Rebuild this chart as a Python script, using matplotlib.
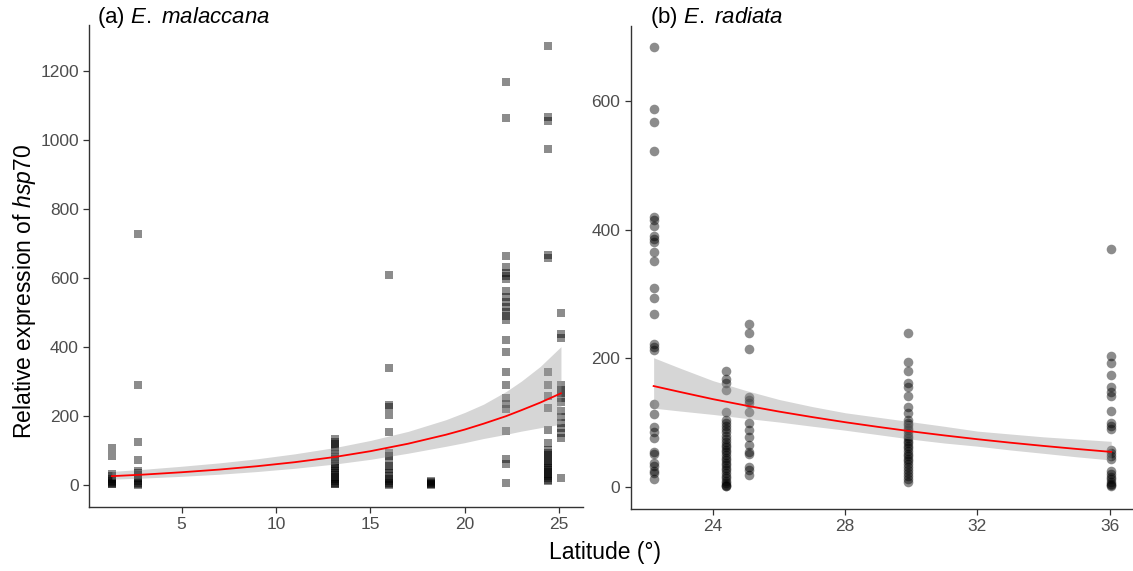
import numpy as np
import matplotlib.pyplot as plt

plt.rcParams['font.family'] = ['Liberation Sans', 'DejaVu Sans']
plt.rcParams['mathtext.fontset'] = 'custom'
plt.rcParams['mathtext.rm'] = 'Liberation Sans'
plt.rcParams['mathtext.it'] = 'Liberation Sans:italic'

# (a) E. malaccana - latitude groups and relative hsp70 expression
mal_lat = [1.3, 2.7, 13.1, 16.0, 18.2, 22.2, 24.4, 25.1]
mal_expr = [
    [106, 82, 32, 25, 18, 12, 8, 5, 3, 1],
    [727, 290, 125, 72, 40, 35, 28, 20, 12, 6, 2, 0],
    [133, 125, 118, 110, 100, 90, 80, 75, 68, 60, 55, 48, 40, 35, 28, 22, 16, 10, 6, 3, 1],
    [608, 338, 232, 224, 201, 154, 92, 82, 68, 55, 45, 35, 25, 18, 12, 6, 2, 0],
    [12, 8, 5, 3, 1, 0],
    [1166, 1064, 663, 630, 615, 605, 595, 560, 545, 530, 515, 500, 490, 478,
     420, 386, 328, 288, 250, 235, 220, 157, 75, 60, 5],
    [1272, 1065, 1055, 972, 666, 657, 328, 290, 256, 222, 159, 121, 100, 92,
     85, 78, 70, 62, 55, 48, 42, 36, 30, 25, 20, 15, 10],
    [497, 437, 425, 290, 275, 265, 250, 240, 215, 195, 180, 165, 150, 135, 19],
]
# fitted curve and confidence band
mal_fit_lat = [1.3, 3, 5, 7, 9, 11, 13.1, 15, 17, 19, 20, 21, 22.2, 23, 24, 25.1]
mal_fit = [25, 29.6, 36.3, 44.1, 53.8, 65.5, 80.4, 97.3, 119, 145, 160, 177, 199, 216, 238, 265]
mal_lo = [16.1, 19.5, 24.5, 30.6, 38.4, 47.8, 60.0, 73.7, 91.5, 111.5, 122.1, 134.1,
          146.3, 155.4, 165.3, 175.5]
mal_hi = [38.8, 45.0, 53.7, 63.5, 75.3, 89.7, 107.7, 128.4, 154.7, 188.5, 209.6, 233.6,
          270.6, 300.2, 342.7, 400.2]

# (b) E. radiata
rad_lat = [22.2, 24.4, 25.1, 29.9, 36.05]
rad_expr = [
    [683, 588, 567, 522, 420, 415, 405, 390, 385, 380, 366, 351, 310, 294, 269,
     222, 218, 213, 129, 113, 94, 85, 76, 54, 52, 38, 33, 25, 22, 12],
    [181, 168, 161, 151, 117, 105, 100, 95, 90, 85, 80, 75, 70, 65, 62, 58, 54,
     50, 46, 42, 38, 34, 30, 26, 22, 18, 14, 10, 7, 4, 2, 1],
    [254, 239, 214, 140, 136, 130, 117, 99, 89, 78, 66, 55, 51, 31, 27, 19],
    [240, 195, 180, 161, 156, 141, 125, 115, 105, 100, 96, 92, 88, 84, 80, 76,
     72, 68, 64, 60, 56, 52, 48, 44, 40, 36, 32, 27, 22, 17, 12, 8],
    [370, 204, 193, 174, 155, 148, 141, 119, 100, 95, 90, 58, 53, 48, 44,
     25, 20, 15, 12, 8, 5, 3, 1],
]
rad_fit_lat = [22.2, 23, 24, 25, 26, 27, 28, 29, 30, 31, 32, 33, 34, 35, 36.05]
rad_fit = [157, 147.8, 136.6, 126.6, 117.3, 108.8, 100.8, 93.5, 86.6, 80.3, 74.4,
           69.0, 64.0, 59.3, 54.7]
rad_lo = [122.7, 118.2, 112.9, 106.8, 101.1, 94.6, 88.4, 81.5, 74.5, 68.5, 63.6,
          57.7, 52.5, 47.1, 42.1]
rad_hi = [201, 184.8, 165.3, 150.0, 136.1, 125.1, 115.5, 108.5, 101.5, 94.5, 87.0,
          82.5, 78.1, 74.7, 71.1]

W, H = 1133, 571
fig = plt.figure(figsize=(W / 100, H / 100), dpi=100)


def px_axes(l, t, r, b):
    return fig.add_axes([l / W, 1 - b / H, (r - l) / W, (b - t) / H])


def style(ax):
    for s in ['top', 'right']:
        ax.spines[s].set_visible(False)
    for s in ['left', 'bottom']:
        ax.spines[s].set_color('#333333')
        ax.spines[s].set_linewidth(1.0)
    ax.tick_params(colors='#333333', labelcolor='#4d4d4d', labelsize=12.5,
                   length=4, width=0.9)


def draw(ax, lats, vals, marker, s, flat, fit, lo, hi):
    for x, ys in zip(lats, vals):
        ax.scatter([x] * len(ys), ys, marker=marker, s=s, c='black',
                   alpha=0.45, linewidths=0, zorder=2)
    ax.fill_between(flat, lo, hi, color='#999999', alpha=0.4, linewidth=0, zorder=3)
    ax.plot(flat, fit, color='red', lw=1.3, zorder=4)


ax1 = px_axes(89.4, 24.5, 583.4, 506.7)
draw(ax1, mal_lat, mal_expr, 's', 30, mal_fit_lat, mal_fit, mal_lo, mal_hi)
ax1.set_xlim(0.11, 26.29)
ax1.set_ylim(-63.5, 1333.5)
ax1.set_xticks([5, 10, 15, 20, 25])
ax1.set_yticks([0, 200, 400, 600, 800, 1000, 1200])
style(ax1)

ax2 = px_axes(630.5, 26.2, 1133, 509)
draw(ax2, rad_lat, rad_expr, 'o', 48, rad_fit_lat, rad_fit, rad_lo, rad_hi)
ax2.set_xlim(21.5, 36.71)
ax2.set_ylim(-34, 716)
ax2.set_xticks([24, 28, 32, 36])
ax2.set_yticks([0, 200, 400, 600])
style(ax2)

fig.text(97 / W, 1 - 18 / H, r'(a) $\mathit{E.\ malaccana}$', fontsize=16,
         ha='left', va='center')
fig.text(650 / W, 1 - 18 / H, r'(b) $\mathit{E.\ radiata}$', fontsize=16,
         ha='left', va='center')
fig.text(605 / W, 1 - 552 / H, 'Latitude (°)', fontsize=16.5, ha='center', va='center')
fig.text(25 / W, 1 - 292 / H, r'Relative expression of $\mathit{hsp70}$', fontsize=16.5,
         ha='center', va='center', rotation=90)

fig.savefig('out.png', dpi=100)
